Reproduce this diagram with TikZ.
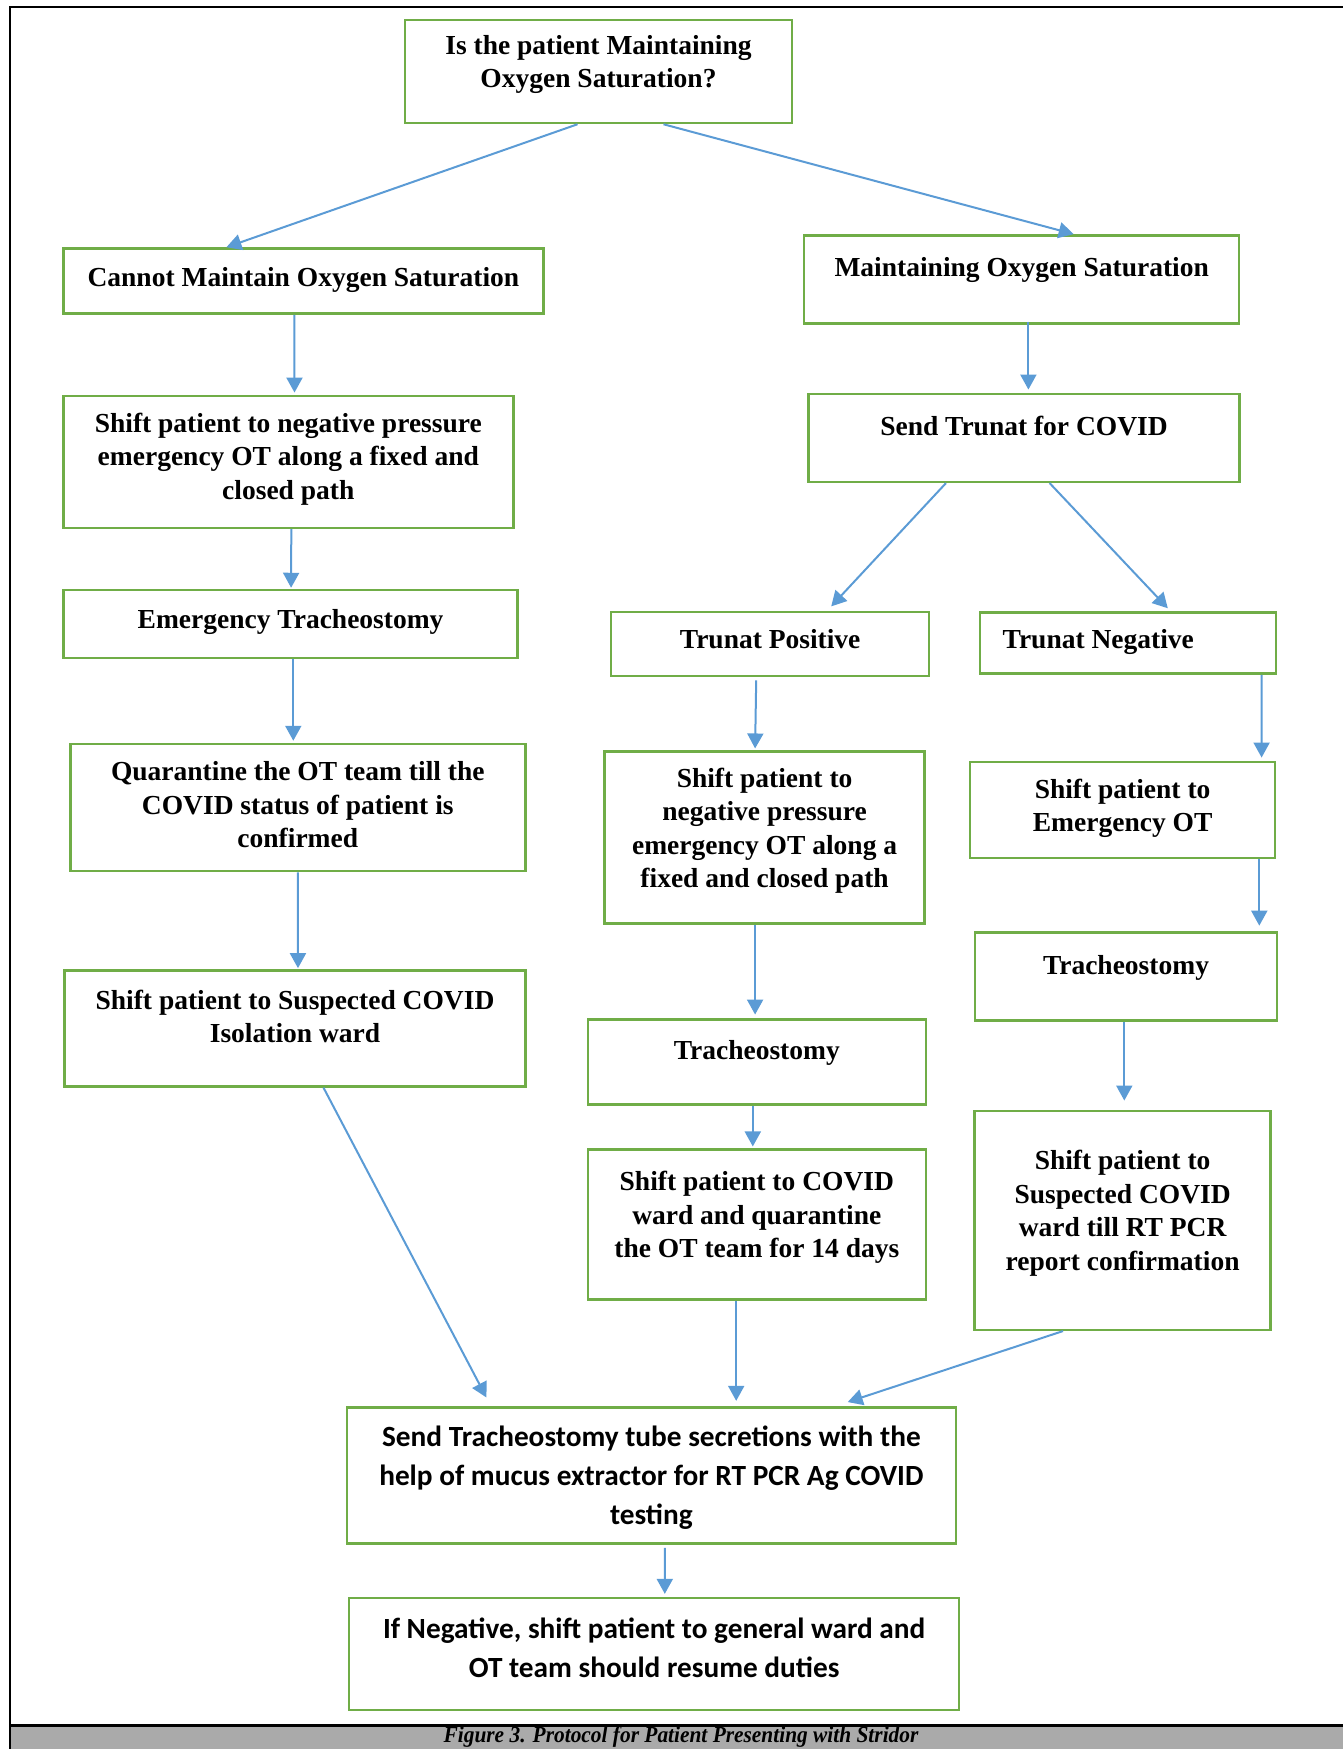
\documentclass[tikz,border=0pt]{standalone}
\usepackage{fontspec}
\setmainfont{Liberation Serif}
\newfontfamily\calfont{Carlito}
\newfontfamily\capfont[FakeStretch=0.93]{Liberation Serif}
\usetikzlibrary{arrows.meta}
\definecolor{boxgreen}{HTML}{70AD47}
\definecolor{arrowblue}{HTML}{5B9BD5}
\definecolor{capgray}{HTML}{AAAAAA}
\tikzstyle{box} = [rectangle, draw=boxgreen, line width=2.5pt, align=center,
    inner sep=0pt, text depth=20pt, font=\bfseries\fontsize{27.5}{33.5}\selectfont]
\tikzstyle{calbox} = [box, font=\calfont\bfseries\fontsize{29.3}{39}\selectfont]

\begin{document}
\begin{tikzpicture}[x=1pt,y=-1pt,->,>={Triangle[length=15pt,width=16pt]},
                    every edge/.style={draw=arrowblue,line width=2pt}]
  \useasboundingbox (0,0) rectangle (1343,1749);

  % frame and caption bar
  \fill[capgray] (10,1725) rectangle (1343,1749);
  \draw[-,line width=3pt] (10,1725) -- (1343,1725);
  \draw[-,line width=2.5pt] (10,1749) -- (10,7) -- (1343,7);
  \node[font=\capfont\bfseries\itshape\fontsize{23}{26}\selectfont] (cap) at (681,1737)
       {Figure 3. Protocol for Patient Presenting with Stridor};

  % left branch
  \node[box,minimum width=387pt,minimum height=103pt] (q) at (598.5,71.5)
       {Is the patient Maintaining\\Oxygen Saturation?};
  \node[box,minimum width=480pt,minimum height=65pt,text depth=8pt] (cm) at (303.4,281)
       {Cannot Maintain Oxygen Saturation};
  \node[box,minimum width=450pt,minimum height=132pt,text depth=11pt] (s1) at (288.3,461.8)
       {Shift patient to negative pressure\\emergency OT along a fixed and\\closed path};
  \node[box,minimum width=454pt,minimum height=68pt,text depth=10pt] (et) at (290.6,624)
       {Emergency Tracheostomy};
  \node[box,minimum width=455pt,minimum height=127pt,text depth=6pt] (qt) at (297.8,807.5)
       {Quarantine the OT team till the\\COVID status of patient is\\confirmed};
  \node[box,minimum width=461pt,minimum height=116pt,text depth=24pt] (iw) at (295,1028.4)
       {Shift patient to Suspected COVID\\Isolation ward};

  % right branch
  \node[box,minimum width=435pt,minimum height=88pt,text depth=24pt] (m) at (1021.7,279.4)
       {Maintaining Oxygen Saturation};
  \node[box,minimum width=431pt,minimum height=88pt,text depth=24pt] (st) at (1024,437.8)
       {Send Trunat for COVID};
  \node[box,minimum width=318pt,minimum height=64pt,text depth=10pt] (tp) at (770.2,644.1)
       {Trunat Positive};
  \node[box,minimum width=296pt,minimum height=61pt,text depth=8pt,
        text width=251pt,align=flush left] (tn) at (1128.2,643)
       {Trunat Negative};
  \node[box,minimum width=320pt,minimum height=172pt] (s2) at (764.6,837.7)
       {Shift patient to\\negative pressure\\emergency OT along a\\fixed and closed path};
  \node[box,minimum width=305pt,minimum height=96pt,text depth=9pt] (s3) at (1122.6,809.8)
       {Shift patient to\\Emergency OT};
  \node[box,minimum width=338pt,minimum height=85pt,text depth=24pt] (t1) at (756.8,1061.8)
       {Tracheostomy};
  \node[box,minimum width=302pt,minimum height=88pt,text depth=24pt] (t2) at (1126,976.5)
       {Tracheostomy};
  \node[box,minimum width=338pt,minimum height=150pt] (cw) at (756.8,1224.7)
       {Shift patient to COVID\\ward and quarantine\\the OT team for 14 days};
  \node[box,minimum width=296pt,minimum height=219pt] (sw) at (1122.6,1220.3)
       {Shift patient to\\Suspected COVID\\ward till RT PCR\\report confirmation};

  % bottom
  \node[calbox,minimum width=609pt,minimum height=136pt,text depth=2pt] (ss) at (651.4,1475.7)
       {Send Tracheostomy tube secretions with the\\help of mucus extractor for RT PCR Ag COVID\\testing};
  \node[calbox,minimum width=610pt,minimum height=112pt,text depth=13pt] (fn) at (654.2,1654.1)
       {If Negative, shift patient to general ward and\\OT team should resume duties};

  \path ([xshift=-21pt]q.south)  edge ([xshift=-77pt]cm.north)
        ([xshift=65pt]q.south)   edge ([xshift=52pt]m.north)
        ([xshift=-9pt]cm.south)  edge ([xshift=6.2pt,yshift=2pt]s1.north)
        ([xshift=3pt]s1.south)   edge ([xshift=0.5pt,yshift=1pt]et.north)
        ([xshift=2.7pt]et.south) edge ([xshift=-4.5pt,yshift=2pt]qt.north)
        (qt.south)               edge ([xshift=3pt,yshift=1pt]iw.north)
        ([xshift=28.5pt]iw.south) edge ([xshift=-165pt,yshift=9pt]ss.north);
  \path ([xshift=6.7pt,yshift=3pt]m.south)   edge ([xshift=4.4pt,yshift=3pt]st.north)
        ([xshift=-78pt]st.south)  edge ([xshift=61pt,yshift=4.5pt]tp.north)
        ([xshift=25.6pt]st.south) edge ([xshift=39.6pt,yshift=3pt]tn.north)
        ([xshift=-14pt,yshift=-3pt]tp.south) edge ([xshift=-9.5pt,yshift=2pt]s2.north)
        ([xshift=133.3pt]tn.south) edge ([xshift=139pt,yshift=3pt]s3.north)
        ([xshift=-9.5pt]s2.south) edge ([xshift=-1.7pt,yshift=3.5pt]t1.north)
        ([xshift=136.7pt]s3.south) edge ([xshift=133.3pt,yshift=5.6pt]t2.north)
        ([xshift=-4pt]t1.south)   edge ([xshift=-4pt,yshift=2pt]cw.north)
        ([xshift=-1.7pt]t2.south) edge ([xshift=1.7pt,yshift=9pt]sw.north)
        ([xshift=-20.6pt]cw.south) edge ([xshift=84.8pt,yshift=5.6pt]ss.north)
        ([xshift=-59.6pt]sw.south) edge ([xshift=196.3pt,yshift=4.4pt]ss.north)
        ([xshift=13.4pt,yshift=-3pt]ss.south) edge ([xshift=10.6pt,yshift=3pt]fn.north);
\end{tikzpicture}
\end{document}
